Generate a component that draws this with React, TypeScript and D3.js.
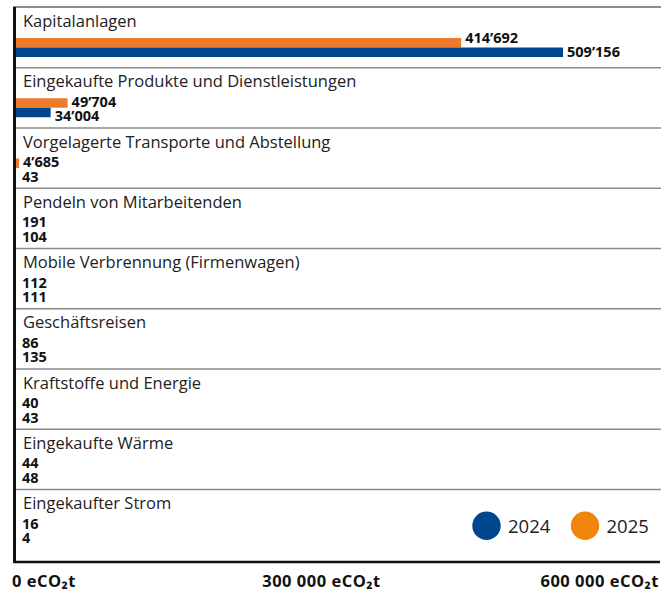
import React from 'react';
import * as d3 from 'd3';

const categories = [
  'Kapitalanlagen',
  'Eingekaufte Produkte und Dienstleistungen',
  'Vorgelagerte Transporte und Abstellung',
  'Pendeln von Mitarbeitenden',
  'Mobile Verbrennung (Firmenwagen)',
  'Geschäftsreisen',
  'Kraftstoffe und Energie',
  'Eingekaufte Wärme',
  'Eingekaufter Strom',
];

const values2025 = [414692, 49704, 4685, 191, 112, 86, 40, 44, 16];
const values2024 = [509156, 34004, 43, 104, 111, 135, 43, 48, 4];

const tickValues = [0, 300000, 600000];
const legendItems = [
  { label: '2024', color: '#00468E' },
  { label: '2025', color: '#F2860C' },
];

const W = 662;
const H = 593;
const BLUE = '#00468E';
const ORANGE = '#EE7A2C';
const FONT = '"Open Sans", "Segoe UI", sans-serif';

const fmt = (v: number) => d3.format(',')(v).replace(/,/g, '\u2019');
const fmtTick = (v: number) => d3.format(',')(v).replace(/,/g, ' ') + ' eCO\u2082t';

const App: React.FC = () => {
  const x = d3.scaleLinear().domain([0, 600000]).range([14, 661]);
  const y = d3.scaleBand<string>().domain(categories).range([7, 549.3]).padding(0);
  const axisY = 562;

  return (
    <svg width={W} height={H} style={{ position: 'absolute', left: 0, top: 0, fontFamily: FONT }}>
      <rect width={W} height={H} fill="#fff" />

      {categories.map((c, i) => {
        const t = y(c) || 0;
        const o = values2025[i];
        const b = values2024[i];
        const oy = i === 0 ? 35.5 : 39.5;
        const by = i === 0 ? 50 : 54;
        return (
          <g key={c}>
            {i > 0 && (
              <line x1={14} x2={661} y1={t + 0.5} y2={t + 0.5} stroke="#8a8a8a" strokeWidth={1.5} />
            )}
            <text x={23} y={t + 20} fontSize={16.5} fill="#222">{c}</text>
            <rect x={x(0)} y={t + 31} width={x(o) - x(0)} height={9.5} fill={ORANGE} />
            <rect x={x(0)} y={t + 40.5} width={x(b) - x(0)} height={9.5} fill={BLUE} />
            <text x={Math.max(x(o) + 4, 22)} y={t + oy} fontSize={14.5} fontWeight={700} fill="#111">
              {fmt(o)}
            </text>
            <text x={Math.max(x(b) + 4, 22)} y={t + by} fontSize={14.5} fontWeight={700} fill="#111">
              {fmt(b)}
            </text>
          </g>
        );
      })}

      {/* frame */}
      <line x1={13} x2={661} y1={7} y2={7} stroke="#1a1a1a" strokeWidth={1.2} />
      <line x1={14.5} x2={14.5} y1={7} y2={axisY} stroke="#111" strokeWidth={3} />
      <line x1={13} x2={660} y1={axisY} y2={axisY} stroke="#111" strokeWidth={2.5} />

      {tickValues.map((v, i) => (
        <text
          key={v}
          x={i === 0 ? x(v) - 2 : i === tickValues.length - 1 ? x(v) - 2 : x(v) - 16}
          y={587}
          fontSize={16.5}
          letterSpacing={0.5}
          fontWeight={700}
          fill="#111"
          textAnchor={i === 0 ? 'start' : i === tickValues.length - 1 ? 'end' : 'middle'}
        >
          {fmtTick(v)}
        </text>
      ))}

      {legendItems.map((d, i) => (
        <g key={d.label} transform={`translate(${486.5 + i * 98.5},525.8)`}>
          <circle r={14.2} fill={d.color} />
          <text x={21.5} y={7} fontSize={18.5} fill="#222">{d.label}</text>
        </g>
      ))}
    </svg>
  );
};

export default App;
